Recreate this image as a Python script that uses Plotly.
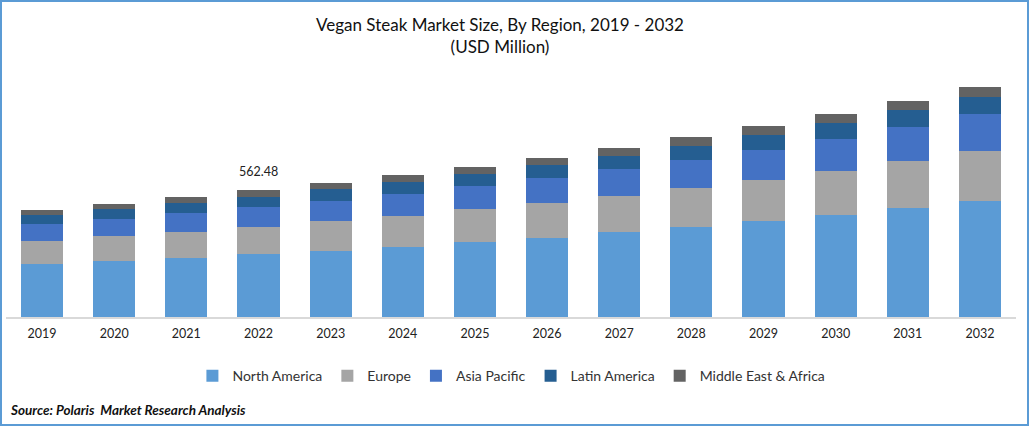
import plotly.graph_objects as go

years = ['2019', '2020', '2021', '2022', '2023', '2024', '2025', '2026', '2027', '2028', '2029', '2030', '2031', '2032']
north_america = [235, 248, 261, 279, 292, 310, 332, 350, 376, 399, 425, 452, 483, 514]
europe = [102, 111, 115, 120, 133, 137, 146, 155, 159, 173, 182, 195, 208, 221]
asia_pacific = [75, 75, 84, 89, 89, 97, 102, 111, 120, 124, 133, 142, 151, 164]
latin_america = [40, 44, 44, 44, 53, 53, 53, 58, 58, 62, 66, 71, 75, 75]
mea = [22, 22, 27, 31, 27, 31, 31, 31, 35, 40, 40, 40, 40, 44]

series = [
    ('North America', north_america, '#5B9BD5'),
    ('Europe', europe, '#A5A5A5'),
    ('Asia Pacific', asia_pacific, '#4472C4'),
    ('Latin America', latin_america, '#255E91'),
    ('Middle East & Africa', mea, '#636363'),
]

fig = go.Figure()
for name, values, colour in series:
    fig.add_trace(go.Bar(x=years, y=values, name=name, marker_color=colour, marker_line_width=0))

fig.update_layout(
    barmode='stack',
    bargap=0.417,
    width=1029,
    height=426,
    margin=dict(l=0, r=0, t=0, b=0),
    paper_bgcolor='white',
    plot_bgcolor='white',
    font=dict(family='Lato', size=13, color='#222222'),
    legend=dict(orientation='h', x=0.497, xanchor='center', y=0.117, yanchor='middle',
                font=dict(size=14, color='#333333'), traceorder='normal'),
)
fig.update_yaxes(visible=False, range=[0, 1138], domain=[109 / 426, 366 / 426])
fig.update_xaxes(showline=True, linecolor='#D9D9D9', linewidth=2, ticks='', type='category',
                 range=[-0.5, 13.5], domain=[6 / 1029, 1016 / 1029], ticklabelstandoff=4,
                 tickfont=dict(size=12.5, color='#222222'))

fig.add_annotation(x=3, y=562.48, text='562.48', showarrow=False, yshift=18,
                   font=dict(size=12.5, color='#222222'))
fig.add_annotation(xref='paper', yref='paper', x=0.486, y=0.972, yanchor='top', showarrow=False, align='center',
                   text='Vegan Steak Market Size, By Region, 2019 - 2032<br>(USD Million)',
                   font=dict(size=17, color='#111111'))
fig.add_annotation(xref='paper', yref='paper', x=0.008, y=0.037, xanchor='left', yanchor='middle', showarrow=False,
                   text='<b><i>Source: Polaris  Market Research Analysis</i></b>',
                   font=dict(size=13.5, color='#111111'))

# blue frame round the whole picture
fig.add_shape(type='rect', xref='paper', yref='paper', x0=0, y0=0, x1=1, y1=1,
              line=dict(color='#5B9BD5', width=4))

# page body has a default margin that pushes the figure off the window
fig.write_html("out.html", config={'displayModeBar': False}, post_script="document.body.style.margin='0';")
